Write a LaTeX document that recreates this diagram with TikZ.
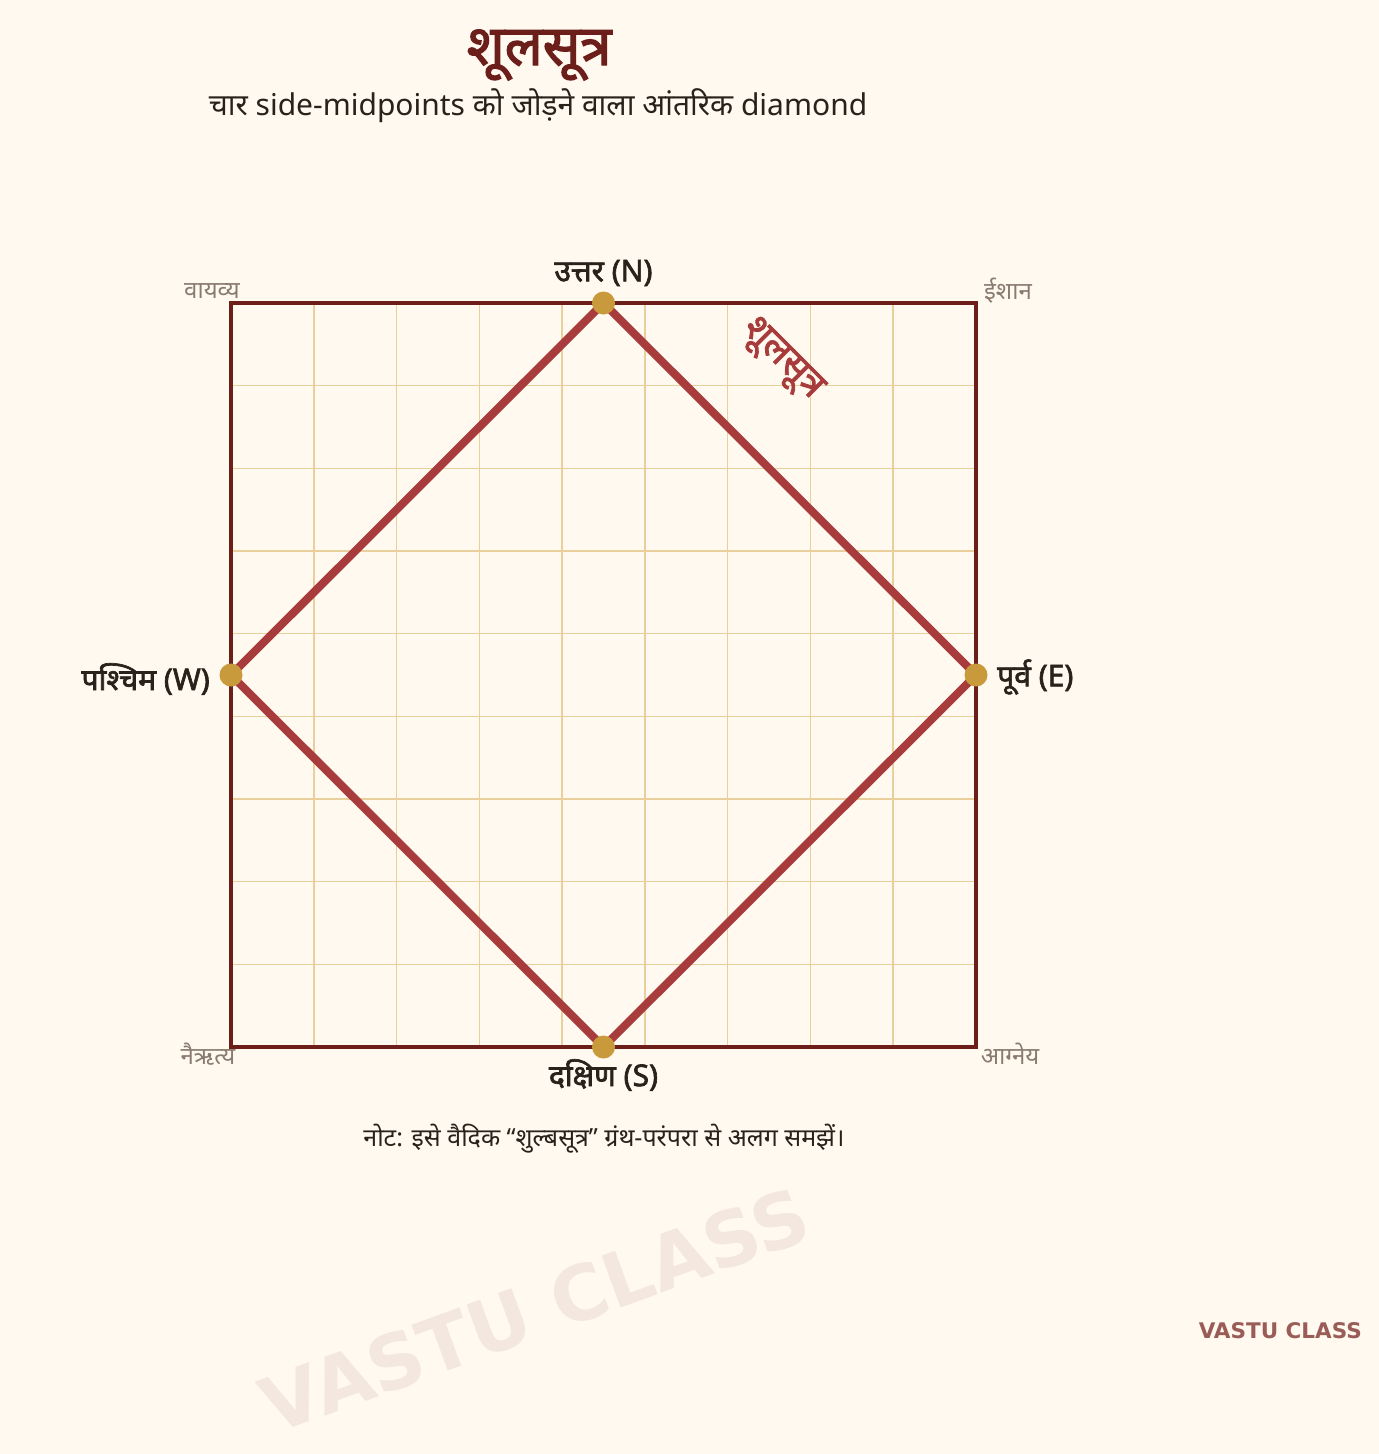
\documentclass[tikz,border=0pt]{standalone}
\usepackage{fontspec}
\setmainfont[Script=Devanagari, AutoFakeBold=2.2]{Noto Sans}
\newfontfamily\wmfont{DejaVu Sans}
\usetikzlibrary{calc}
\definecolor{bgc}{HTML}{FFF9EF}
\definecolor{maroon}{HTML}{6B1E1A}
\definecolor{gridc}{HTML}{E9CF9C}
\definecolor{diac}{HTML}{A83C3C}
\definecolor{dotc}{HTML}{C99A3B}
\definecolor{txtc}{HTML}{2B211C}
\definecolor{grayc}{HTML}{8A7B70}
\definecolor{wmc}{HTML}{F3E7DF}
\definecolor{brandc}{HTML}{9A5C57}
\tikzset{
  dirlabel/.style={font=\fontsize{30}{34}\selectfont\bfseries, text=txtc, inner sep=0pt},
  cornerlabel/.style={font=\fontsize{24}{28}\selectfont, text=grayc, inner sep=0pt},
  gridline/.style={draw=gridc, line width=1.5pt},
  diaedge/.style={draw=diac, line width=8pt, line cap=round},
  dotnode/.style={circle, fill=dotc, minimum size=23pt, inner sep=0pt},
}
\begin{document}
\begin{tikzpicture}[x=1pt,y=-1pt]
\fill[bgc] (0,0) rectangle (1379,1454);
\useasboundingbox (0,0) rectangle (1379,1454);
% watermark
\node[font=\wmfont\fontsize{76}{84}\selectfont\bfseries, text=wmc, rotate=20, inner sep=0pt] (wm) at (535,1310) {VASTU CLASS};
% title
\node[font=\fontsize{56}{62}\selectfont\bfseries, text=maroon, inner sep=0pt] (title) at (539,55) {शूलसूत्र};
\node[font=\fontsize{30}{34}\selectfont, text=txtc, inner sep=0pt] (sub) at (538,106) {चार side-midpoints को जोड़ने वाला आंतरिक diamond};
% grid
\foreach \i in {1,...,8} {
  \draw[gridline] ({231+\i*745/9},303) -- ({231+\i*745/9},1047);
  \draw[gridline] (231,{303+\i*744/9}) -- (976,{303+\i*744/9});
}
% square
\draw[maroon, line width=4pt] (231,303) rectangle (976,1047);
% points
\coordinate (N) at (603.5,303);
\coordinate (E) at (976,675);
\coordinate (S) at (603.5,1047);
\coordinate (W) at (231,675);
\draw[diaedge] (N) -- (E) -- (S) -- (W) -- cycle;
\foreach \p in {N,E,S,W} \node[dotnode] (d\p) at (\p) {};
% diagonal label
\node[font=\fontsize{38}{42}\selectfont\bfseries, text=diac, rotate=-45, inner sep=0pt] (diag) at (781,360) {शूलसूत्र};
% direction labels
\node[dirlabel, anchor=center] (lN) at (603.5,273) {उत्तर (N)};
\node[dirlabel, anchor=east] (lW) at (210,679) {पश्चिम (W)};
\node[dirlabel, anchor=west] (lE) at (997,677) {पूर्व (E)};
\node[dirlabel, anchor=center] (lS) at (603.5,1075) {दक्षिण (S)};
% corner labels
\node[cornerlabel] (cNW) at (212,291) {वायव्य};
\node[cornerlabel] (cNE) at (1008,291) {ईशान};
\node[cornerlabel] (cSW) at (208,1054) {नैऋत्य};
\node[cornerlabel] (cSE) at (1010,1054) {आग्नेय};
% note
\node[font=\fontsize{25}{29}\selectfont, text=txtc, inner sep=0pt] (note) at (604,1139) {नोट: इसे वैदिक “शुल्बसूत्र” ग्रंथ-परंपरा से अलग समझें।};
% brand
\node[font=\wmfont\fontsize{21.5}{25}\selectfont\bfseries, text=brandc, inner sep=0pt, anchor=east] (brand) at (1362,1331) {VASTU CLASS};
\end{tikzpicture}
\end{document}
